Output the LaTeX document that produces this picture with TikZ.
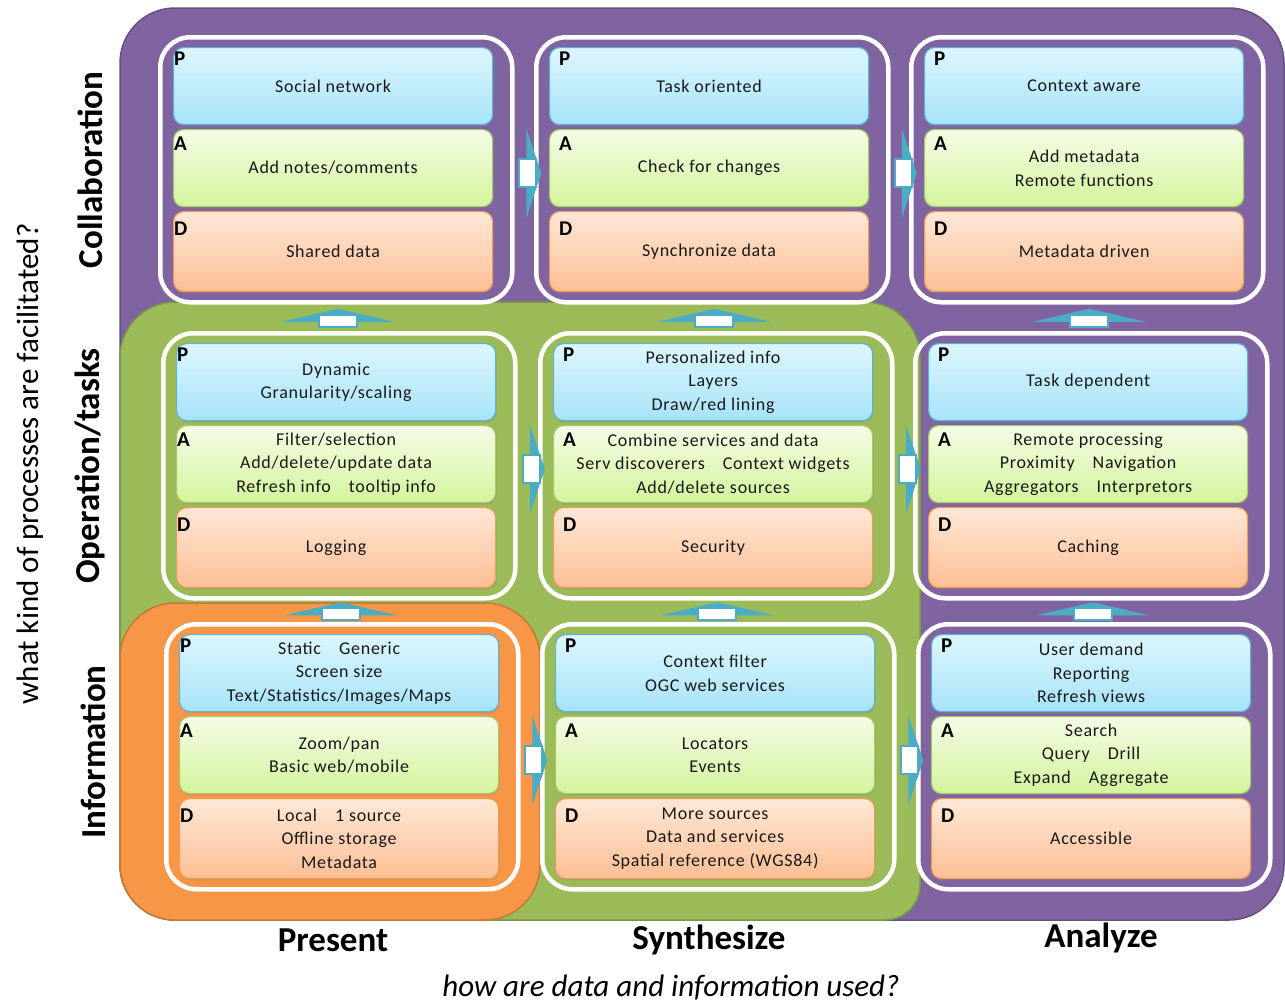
\documentclass[tikz,border=0pt]{standalone}
\usepackage{fontspec}
\setmainfont{Carlito}
\newfontfamily\cellfont[LetterSpace=4]{Carlito}
\usetikzlibrary{calc,shadows}

\definecolor{regpurple}{HTML}{8064A2}
\definecolor{reggreen}{HTML}{9BBB59}
\definecolor{regorange}{HTML}{F79646}
\definecolor{arrowteal}{HTML}{4BACC6}
\definecolor{ptop}{HTML}{DDF6FE}
\definecolor{pbot}{HTML}{A6E3F8}
\definecolor{pline}{HTML}{5CB6D3}
\definecolor{atop}{HTML}{F4FCE6}
\definecolor{abot}{HTML}{D4F49C}
\definecolor{aline}{HTML}{A8C86A}
\definecolor{dtop}{HTML}{FEE8D7}
\definecolor{dbot}{HTML}{FCBF94}
\definecolor{dline}{HTML}{F39A55}

\tikzset{
  cellframe/.style={draw=white, line width=4.5pt, rounded corners=30pt,
    minimum width=352pt, minimum height=265pt, inner sep=0pt},
  inbox/.style={rounded corners=10pt, minimum width=319pt, inner sep=0pt,
    align=center, text=black!90, line width=1.2pt,
    font=\cellfont\fontsize{18}{23.5}\selectfont,
    drop shadow={opacity=0.25, shadow xshift=1pt, shadow yshift=-2pt}},
  pbox/.style={inbox, minimum height=77pt, draw=pline, top color=ptop, bottom color=pbot},
  abox/.style={inbox, minimum height=77pt, draw=aline, top color=atop, bottom color=abot},
  dbox/.style={inbox, minimum height=80pt, draw=dline, top color=dtop, bottom color=dbot},
  letter/.style={font=\bfseries\fontsize{21}{21}\selectfont, inner sep=0pt,
    anchor=north west, text=black},
  shaft/.style={fill=white, draw=arrowteal, line width=1.6pt},
  rowlab/.style={rotate=90, font=\bfseries\fontsize{35}{35}\selectfont, inner sep=0pt},
  collab/.style={font=\bfseries\fontsize{35}{35}\selectfont, inner sep=0pt},
  region/.style={line width=1.5pt},
}

% one cell: name, left, top, letter offset, P text, A text, D text
\newcommand\cell[7]{%
  \node[cellframe, anchor=north west] (#1-f) at (#2,#3) {};
  \node[pbox, anchor=north west] (#1-p) at ($(#2,#3)+(15,12)$) {#5};
  \node[abox, anchor=north west] (#1-a) at ($(#2,#3)+(15,94)$) {#6};
  \node[dbox, anchor=north west] (#1-d) at ($(#2,#3)+(15,176)$) {#7};
  \node[letter] (#1-pl) at ($(#1-p.north west)+(#4,5)$) {P};
  \node[letter] (#1-al) at ($(#1-a.north west)+(#4,8)$) {A};
  \node[letter] (#1-dl) at ($(#1-d.north west)+(#4,11)$) {D};
}

% block arrow pointing right, between two frames
\newcommand\rightarr[2]{%
  \coordinate (#1#2m) at ($(#1.east)!0.5!(#2.west)+(0,3.5)$);
  \fill[arrowteal] ($(#1#2m)+(2,-45)$) -- ($(#1#2m)+(17,0)$) -- ($(#1#2m)+(2,45)$) -- cycle;
  \draw[shaft] ($(#1#2m)+(-5,-14)$) rectangle ($(#1#2m)+(12,14)$);
}

% block arrow pointing up, from the lower frame to the upper one
\newcommand\uparr[2]{%
  \coordinate (#1#2m) at ($(#1.north)!0.5!(#2.south)$);
  \fill[arrowteal] ($(#1#2m)+(-56,4)$) -- ($(#1#2m)+(0,-9)$) -- ($(#1#2m)+(56,4)$) -- cycle;
  \draw[shaft] ($(#1#2m)+(-19,-3)$) rectangle ($(#1#2m)+(19,9)$);
}

\begin{document}
\begin{tikzpicture}[x=1pt, y=-1pt]
\useasboundingbox[fill=white] (0,0) rectangle (1285,1004);

% background regions
\draw[region, fill=regpurple, draw=regpurple!80!black, rounded corners=55pt]
  (120,8) rectangle (1284,920);
\draw[region, fill=reggreen, draw=reggreen!80!black]
  (120,920) [rounded corners=55pt] -- (120,302) -- (920,302)
  [rounded corners=35pt] -- (920,920) [rounded corners=55pt] -- cycle;
\draw[region, fill=regorange, draw=regorange!80!black, rounded corners=55pt]
  (120,603) rectangle (540,920);

% Collaboration row
\cell{c11}{158}{35}{1}{Social network}{Add notes/comments}{Shared data}
\cell{c12}{534}{35}{10}{Task oriented}{Check for changes}{Synchronize data}
\cell{c13}{909}{35}{10}{Context aware}{Add metadata\\Remote functions}{Metadata driven}

% Operation/tasks row
\cell{c21}{161}{331}{1}{Dynamic\\Granularity/scaling}
  {Filter/selection\\Add/delete/update data\\Refresh info\quad tooltip info}{Logging}
\cell{c22}{538}{331}{10}{Personalized info\\Layers\\Draw/red lining}
  {Combine services and data\\Serv discoverers\quad Context widgets\\Add/delete sources}{Security}
\cell{c23}{913}{331}{10}{Task dependent}
  {Remote processing\\Proximity\quad Navigation\\Aggregators\quad Interpretors}{Caching}

% Information row
\cell{c31}{164}{622}{1}{Static\quad Generic\\Screen size\\Text/Statistics/Images/Maps}
  {Zoom/pan\\Basic web/mobile}{Local\quad 1 source\\Offline storage\\Metadata}
\cell{c32}{540}{622}{10}{Context filter\\OGC web services}{Locators\\Events}
  {More sources\\Data and services\\Spatial reference (WGS84)}
\cell{c33}{916}{622}{10}{User demand\\Reporting\\Refresh views}
  {Search\\Query\quad Drill\\Expand\quad Aggregate}{Accessible}

% arrows to the right
\rightarr{c11-f}{c12-f}
\rightarr{c12-f}{c13-f}
\rightarr{c21-f}{c22-f}
\rightarr{c22-f}{c23-f}
\rightarr{c31-f}{c32-f}
\rightarr{c32-f}{c33-f}

% arrows upward
\uparr{c21-f}{c11-f}
\uparr{c22-f}{c12-f}
\uparr{c23-f}{c13-f}
\uparr{c31-f}{c21-f}
\uparr{c32-f}{c22-f}
\uparr{c33-f}{c23-f}

% axis labels
\node[rowlab] (lcoll) at (90,170) {Collaboration};
\node[rowlab] (loper) at (90,466) {Operation/tasks};
\node[rowlab] (linfo) at (93,752) {Information};
\node[rotate=90, font=\fontsize{31}{31}\selectfont, inner sep=0pt] (qy) at (30,464)
  {what kind of processes are facilitated?};
\node[collab] (lpres) at (333,940) {Present};
\node[collab] (lsynt) at (709,940) {Synthesize};
\node[collab] (lanal) at (1101,938) {Analyze};
\node[font=\itshape\fontsize{31}{31}\selectfont, inner sep=0pt] (qx) at (671,988)
  {how are data and information used?};
\end{tikzpicture}
\end{document}
